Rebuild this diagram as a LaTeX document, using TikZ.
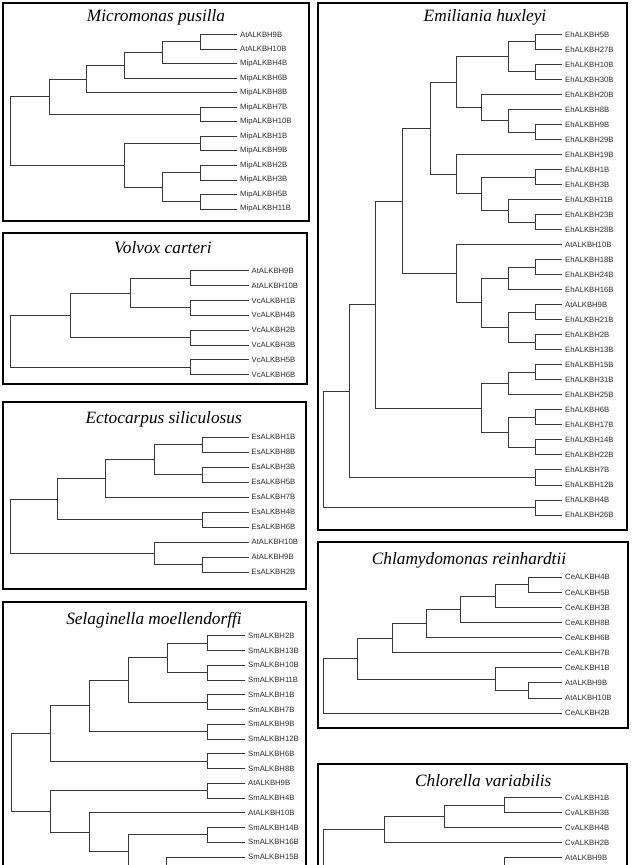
\documentclass[tikz,border=0pt]{standalone}
\usepackage{fontspec}
\setmainfont{Liberation Serif}
\newfontfamily\labfam{Liberation Sans}
\usetikzlibrary{calc}
\newcommand\labfont{\labfam\fontsize{7.7}{9}\selectfont}
\newcommand\ttlfont{\rmfamily\itshape\fontsize{17.3}{20}\selectfont}
% internal tree node: name, x, child1, child2
\newcommand\tn[4]{%
  \path ($(#3)!0.5!(#4)$) coordinate (#1m);
  \coordinate (#1) at (#2,0 |- #1m);
  \draw[branch] (#1) |- (#3) (#1) |- (#4);
}
\begin{document}
\begin{tikzpicture}[x=1pt,y=-1pt,
  branch/.style={draw=black!78, line width=0.8pt},
  leaf/.style={anchor=west, inner xsep=3pt, inner ysep=1pt, font=\labfont, text=black!82},
  ttl/.style={anchor=base, inner sep=0pt, font=\ttlfont, text=black},
  frame/.style={draw=black, line width=2pt}]
\useasboundingbox (0,0) rectangle (635,865);
\fill[white] (0,0) rectangle (635,865);
\clip (0,0) rectangle (635,865);

% ---------- frames ----------
\draw[frame] (3,3) rectangle (309,221);
\draw[frame] (3,233) rectangle (307,384);
\draw[frame] (3,402) rectangle (306,589);
\draw[frame] (3,602) rectangle (306,890);
\draw[frame] (318,3) rectangle (627,530);
\draw[frame] (318,542) rectangle (628,728);
\draw[frame] (318,764) rectangle (627,890);

% ---------- titles ----------
\node[ttl] (t1) at (156,21.7) {Micromonas pusilla};
\node[ttl] (t2) at (163,253) {Volvox carteri};
\node[ttl] (t3) at (163.7,423) {Ectocarpus siliculosus};
\node[ttl] (t4) at (154,624) {Selaginella moellendorffi};
\node[ttl] (t5) at (485,21.7) {Emiliania huxleyi};
\node[ttl] (t6) at (469,564.7) {Chlamydomonas reinhardtii};
\node[ttl] (t7) at (483.3,786.7) {Chlorella variabilis};

% ---------- Micromonas pusilla ----------
\foreach \t [count=\i from 0] in {AtALKBH9B,AtALKBH10B,MipALKBH4B,MipALKBH6B,MipALKBH8B,MipALKBH7B,MipALKBH10B,MipALKBH1B,MipALKBH9B,MipALKBH2B,MipALKBH3B,MipALKBH5B,MipALKBH11B}
  \node[leaf] (a\i) at (237,{34.4+14.55*\i}) {\t};
\tn{p1a}{200.3}{a0}{a1}
\tn{p1b}{162.3}{p1a}{a2}
\tn{p1c}{124.3}{p1b}{a3}
\tn{p1d}{86.7}{p1c}{a4}
\tn{p1e}{200.3}{a5}{a6}
\tn{p1f}{49}{p1d}{p1e}
\tn{p1g}{200.3}{a7}{a8}
\tn{p1h}{200.3}{a9}{a10}
\tn{p1i}{200.3}{a11}{a12}
\tn{p1j}{162.3}{p1h}{p1i}
\tn{p1k}{124.3}{p1g}{p1j}
\tn{p1r}{10}{p1f}{p1k}

% ---------- Volvox carteri ----------
\foreach \t [count=\i from 0] in {AtALKBH9B,AtALKBH10B,VcALKBH1B,VcALKBH4B,VcALKBH2B,VcALKBH3B,VcALKBH5B,VcALKBH6B}
  \node[leaf] (b\i) at (248.5,{270.7+14.86*\i}) {\t};
\tn{q1}{190}{b0}{b1}
\tn{q2}{190}{b2}{b3}
\tn{q3}{130}{q1}{q2}
\tn{q4}{190}{b4}{b5}
\tn{q5}{70.7}{q3}{q4}
\tn{q6}{190}{b6}{b7}
\tn{q7}{10.7}{q5}{q6}

% ---------- Ectocarpus siliculosus ----------
\foreach \t [count=\i from 0] in {EsALKBH1B,EsALKBH8B,EsALKBH3B,EsALKBH5B,EsALKBH7B,EsALKBH4B,EsALKBH6B,AtALKBH10B,AtALKBH9B,EsALKBH2B}
  \node[leaf] (c\i) at (248.5,{437.3+15*\i}) {\t};
\tn{r1}{202.3}{c0}{c1}
\tn{r2}{202.3}{c2}{c3}
\tn{r3}{154}{r1}{r2}
\tn{r4}{105.7}{r3}{c4}
\tn{r5}{202.3}{c5}{c6}
\tn{r6}{57.7}{r4}{r5}
\tn{r7}{202.3}{c8}{c9}
\tn{r8}{154}{c7}{r7}
\tn{r9}{10}{r6}{r8}

% ---------- Selaginella moellendorffi ----------
\foreach \t [count=\i from 0] in {SmALKBH2B,SmALKBH13B,SmALKBH10B,SmALKBH11B,SmALKBH1B,SmALKBH7B,SmALKBH9B,SmALKBH12B,SmALKBH6B,SmALKBH8B,AtALKBH9B,SmALKBH4B,AtALKBH10B,SmALKBH14B,SmALKBH16B,SmALKBH15B}
  \node[leaf] (d\i) at (245,{635.7+14.75*\i}) {\t};
\coordinate (dX) at (207.3,880);
\tn{s1}{207.3}{d0}{d1}
\tn{s2}{207.3}{d2}{d3}
\tn{s3}{167.3}{s1}{s2}
\tn{s4}{207.3}{d4}{d5}
\tn{s5}{128.3}{s3}{s4}
\tn{s6}{207.3}{d6}{d7}
\tn{s7}{89.3}{s5}{s6}
\tn{s8}{207.3}{d8}{d9}
\tn{s9}{50}{s7}{s8}
\tn{s10}{207.3}{d10}{d11}
\tn{s11}{207.3}{d13}{d14}
\tn{s12}{166.7}{d15}{dX}
\tn{s13}{128.3}{s11}{s12}
\tn{s14}{89.3}{d12}{s13}
\tn{s15}{50}{s10}{s14}
\tn{s16}{11.7}{s9}{s15}

% ---------- Emiliania huxleyi ----------
\foreach \t [count=\i from 0] in {EhALKBH5B,EhALKBH27B,EhALKBH10B,EhALKBH30B,EhALKBH20B,EhALKBH8B,EhALKBH9B,EhALKBH29B,EhALKBH19B,EhALKBH1B,EhALKBH3B,EhALKBH11B,EhALKBH23B,EhALKBH28B,AtALKBH10B,EhALKBH18B,EhALKBH24B,EhALKBH16B,AtALKBH9B,EhALKBH21B,EhALKBH2B,EhALKBH13B,EhALKBH15B,EhALKBH31B,EhALKBH25B,EhALKBH6B,EhALKBH17B,EhALKBH14B,EhALKBH22B,EhALKBH7B,EhALKBH12B,EhALKBH4B,EhALKBH26B}
  \node[leaf] (e\i) at (562,{34.3+15.02*\i}) {\t};
\tn{ea1}{535.7}{e0}{e1}
\tn{ea2}{535.7}{e2}{e3}
\tn{ea3}{508.3}{ea1}{ea2}
\tn{eb1}{535.7}{e6}{e7}
\tn{eb2}{508.3}{e5}{eb1}
\tn{eb3}{481.7}{e4}{eb2}
\tn{ec1}{456.7}{ea3}{eb3}
\tn{ee1}{535.7}{e9}{e10}
\tn{ee2}{535.7}{e12}{e13}
\tn{ee3}{508.3}{e11}{ee2}
\tn{ee4}{481.7}{ee1}{ee3}
\tn{ee5}{456.7}{e8}{ee4}
\tn{ec2}{430}{ec1}{ee5}
\tn{eh}{535.7}{e15}{e16}
\tn{eg1}{508.3}{eh}{e17}
\tn{ei1}{535.7}{e18}{e19}
\tn{ei2}{535.7}{e20}{e21}
\tn{eg2}{508.3}{ei1}{ei2}
\tn{eg}{481.7}{eg1}{eg2}
\tn{ef}{456.7}{e14}{eg}
\tn{en1}{402.3}{ec2}{ef}
\tn{ek1}{535.7}{e22}{e23}
\tn{ej1}{508.3}{ek1}{e24}
\tn{ek2}{535.7}{e25}{e26}
\tn{ek3}{535.7}{e27}{e28}
\tn{ej2}{508.3}{ek2}{ek3}
\tn{ej}{481.7}{ej1}{ej2}
\tn{en2}{375.7}{en1}{ej}
\tn{el}{535.7}{e29}{e30}
\tn{en3}{349}{en2}{el}
\tn{em}{535.7}{e31}{e32}
\tn{er}{323.3}{en3}{em}

% ---------- Chlamydomonas reinhardtii ----------
\foreach \t [count=\i from 0] in {CeALKBH4B,CeALKBH5B,CeALKBH3B,CeALKBH8B,CeALKBH6B,CeALKBH7B,CeALKBH1B,AtALKBH9B,AtALKBH10B,CeALKBH2B}
  \node[leaf] (f\i) at (562,{577.3+15.08*\i}) {\t};
\tn{ca}{528.3}{f0}{f1}
\tn{cb}{495}{ca}{f2}
\tn{cc}{460.7}{cb}{f3}
\tn{cd}{426}{cc}{f4}
\tn{ce}{392.3}{cd}{f5}
\tn{cf}{528.3}{f7}{f8}
\tn{cg}{495}{f6}{cf}
\tn{ch}{357.7}{ce}{cg}
\tn{cr}{323.3}{ch}{f9}

% ---------- Chlorella variabilis ----------
\foreach \t [count=\i from 0] in {CvALKBH1B,CvALKBH3B,CvALKBH4B,CvALKBH2B,AtALKBH9B}
  \node[leaf] (g\i) at (562,{797.7+15*\i}) {\t};
\coordinate (gX) at (562,875);
\coordinate (gY) at (504.3,975);
\tn{v1}{504.3}{g0}{g1}
\tn{v2}{444}{v1}{g2}
\tn{v3}{384}{v2}{g3}
\tn{v4}{504.3}{g4}{gX}
\tn{v5}{444}{v4}{gY}
\tn{v6}{323.3}{v3}{v5}
\end{tikzpicture}
\end{document}
